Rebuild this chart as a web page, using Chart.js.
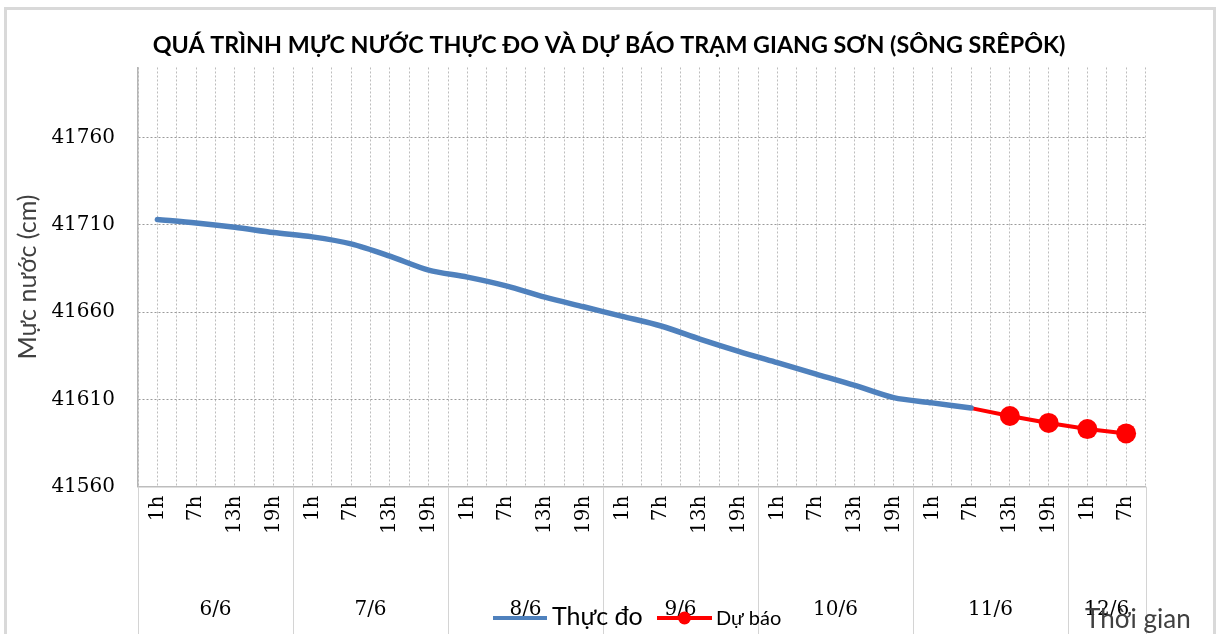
<!DOCTYPE html>
<html>
<head>
<meta charset="utf-8">
<script src="https://cdn.jsdelivr.net/npm/chart.js@4.4.1/dist/chart.umd.min.js"></script>
<style>
  html, body { margin: 0; padding: 0; background: #ffffff; }
  #wrap { position: relative; width: 1218px; height: 634px; overflow: hidden; }
  canvas { display: block; }
</style>
</head>
<body>
<div id="wrap"><canvas id="c" width="1218" height="634"></canvas></div>
<script>
// ---- Data ----
const hours = ['1h','7h','13h','19h','1h','7h','13h','19h','1h','7h','13h','19h','1h','7h','13h','19h','1h','7h','13h','19h','1h','7h','13h','19h','1h','7h'];
const days = ['6/6','7/6','8/6','9/6','10/6','11/6','12/6'];
const dayCounts = [4,4,4,4,4,4,2];
const thucDo = [41713, 41711, 41708.5, 41705.5, 41703, 41699, 41692, 41684, 41680, 41675, 41668.5, 41663,
                41657.5, 41652, 41644.5, 41637.5, 41631, 41624.5, 41618, 41611, 41608, 41605,
                null, null, null, null];
const duBao = [null, null, null, null, null, null, null, null, null, null, null, null,
               null, null, null, null, null, null, null, null, null, 41605,
               41600.5, 41596.5, 41593, 41590.5];
const yTicks = [41560, 41610, 41660, 41710, 41760];
const yMin = 41560, yMax = 41800;

const titleText = 'QUÁ TRÌNH MỰC NƯỚC THỰC ĐO VÀ DỰ BÁO TRẠM GIANG SƠN (SÔNG SRÊPÔK)';
const yTitle = 'Mực nước (cm)';
const xTitle = 'Thời gian';
const seriesNames = ['Thực đo', 'Dự báo'];

const SANS = 'Lato, "Open Sans", sans-serif';
const SERIF = '"DejaVu Serif", "Liberation Serif", serif';

const decor = {
  id: 'decor',
  beforeDraw(chart) {
    const ctx = chart.ctx;
    ctx.save();
    ctx.strokeStyle = '#d9d9d9';
    ctx.lineWidth = 3;
    ctx.strokeRect(5.5, 8.5, 1209, 640);
    ctx.restore();
  },
  afterDraw(chart) {
    const ctx = chart.ctx, xs = chart.scales.x, area = chart.chartArea;
    const step = xs.getPixelForValue(1) - xs.getPixelForValue(0);
    ctx.save();
    ctx.strokeStyle = '#d4d4d4';
    ctx.lineWidth = 1;
    ctx.fillStyle = '#000';
    ctx.font = '20px ' + SERIF;
    ctx.textAlign = 'center';
    ctx.textBaseline = 'middle';
    let idx = 0;
    days.forEach((d, k) => {
      const n = dayCounts[k];
      const x0 = xs.getPixelForValue(idx) - step / 2;
      const x1 = xs.getPixelForValue(idx + n - 1) + step / 2;
      ctx.beginPath();
      ctx.moveTo(Math.round(x0) + 0.5, area.bottom);
      ctx.lineTo(Math.round(x0) + 0.5, chart.height);
      if (k === days.length - 1) {
        ctx.moveTo(Math.round(x1) + 0.5, area.bottom);
        ctx.lineTo(Math.round(x1) + 0.5, chart.height);
      }
      ctx.stroke();
      ctx.fillText(d, (x0 + x1) / 2, 610);
      idx += n;
    });

    // legend
    const ds = chart.data.datasets;
    ctx.textAlign = 'left';
    ctx.lineCap = 'butt';
    ctx.strokeStyle = ds[0].borderColor;
    ctx.lineWidth = 4;
    ctx.beginPath(); ctx.moveTo(493, 618); ctx.lineTo(547, 618); ctx.stroke();
    ctx.fillStyle = '#000';
    ctx.font = '25px ' + SANS;
    ctx.fillText(ds[0].label, 552, 617);
    ctx.strokeStyle = ds[1].borderColor;
    ctx.lineWidth = 4;
    ctx.beginPath(); ctx.moveTo(657, 618); ctx.lineTo(712, 618); ctx.stroke();
    ctx.fillStyle = ds[1].borderColor;
    ctx.beginPath(); ctx.arc(684.5, 618, 6.5, 0, Math.PI * 2); ctx.fill();
    ctx.fillStyle = '#000';
    ctx.font = '20px ' + SANS;
    ctx.fillText(ds[1].label, 716, 619);

    // x-axis title
    ctx.fillStyle = '#404040';
    ctx.font = '26px ' + SANS;
    ctx.fillText(xTitle, 1085, 620);
    ctx.restore();
  }
};

new Chart(document.getElementById('c'), {
  type: 'line',
  data: {
    labels: hours,
    datasets: [
      {
        label: seriesNames[0],
        data: thucDo,
        borderColor: '#4f81bd',
        backgroundColor: '#4f81bd',
        borderWidth: 5.5,
        pointRadius: 0,
        pointHoverRadius: 0,
        tension: 0.3,
        borderCapStyle: 'round',
        borderJoinStyle: 'round',
        spanGaps: false
      },
      {
        label: seriesNames[1],
        data: duBao,
        borderColor: '#ff0000',
        backgroundColor: '#ff0000',
        borderWidth: 4,
        pointRadius: duBao.map((v, i) => (v === null || i === 21) ? 0 : 10),
        pointBackgroundColor: '#ff0000',
        pointBorderColor: '#ff0000',
        pointBorderWidth: 0,
        tension: 0,
        spanGaps: false
      }
    ]
  },
  options: {
    responsive: false,
    animation: false,
    devicePixelRatio: 1,
    layout: { padding: 0 },
    plugins: {
      legend: { display: false },
      tooltip: { enabled: false },
      title: {
        display: true,
        text: titleText,
        color: '#000',
        font: { family: SANS, size: 23.3, weight: 'bold', lineHeight: 1.2 },
        padding: { top: 31.5, bottom: 8 }
      }
    },
    scales: {
      x: {
        type: 'category',
        position: 'bottom',
        offset: true,
        afterFit(scale) { scale.height = 147.3; },
        grid: { display: true, offset: true, drawTicks: false, color: '#bdbdbd', lineWidth: 1 },
        border: { display: true, color: '#bdbdbd', width: 1.5, dash: [2, 2] },
        ticks: {
          autoSkip: false,
          maxRotation: 90,
          minRotation: 90,
          padding: 9,
          color: '#000',
          font: { family: SERIF, size: 20 }
        }
      },
      x2: {
        type: 'category',
        position: 'bottom',
        offset: true,
        labels: hours,
        afterFit(scale) { scale.height = 0; },
        grid: { display: true, offset: false, drawTicks: false, color: '#bdbdbd', lineWidth: 1 },
        border: { display: false, dash: [2, 2] },
        ticks: { display: false }
      },
      y: {
        type: 'linear',
        min: yMin,
        max: yMax,
        afterFit(scale) { scale.width = 138; },
        afterBuildTicks(scale) { scale.ticks = yTicks.map(v => ({ value: v })); },
        grid: { color: '#9a9a9a', lineWidth: 1, drawTicks: false },
        border: { display: true, color: '#b5b5b5', width: 1.5, dash: [2, 2] },
        ticks: {
          padding: 23,
          color: '#000',
          font: { family: SERIF, size: 20 },
          callback: (v) => String(v)
        },
        title: {
          display: true,
          text: yTitle,
          color: '#404040',
          font: { family: SANS, size: 25, lineHeight: 1.2 },
          padding: { top: 13, bottom: 0 }
        }
      },
      yRight: {
        type: 'linear',
        position: 'right',
        min: yMin,
        max: yMax,
        afterFit(scale) { scale.width = 72.5; },
        grid: { display: false, drawOnChartArea: false },
        border: { display: false },
        ticks: { display: false }
      }
    }
  },
  plugins: [decor]
});
</script>
</body>
</html>
